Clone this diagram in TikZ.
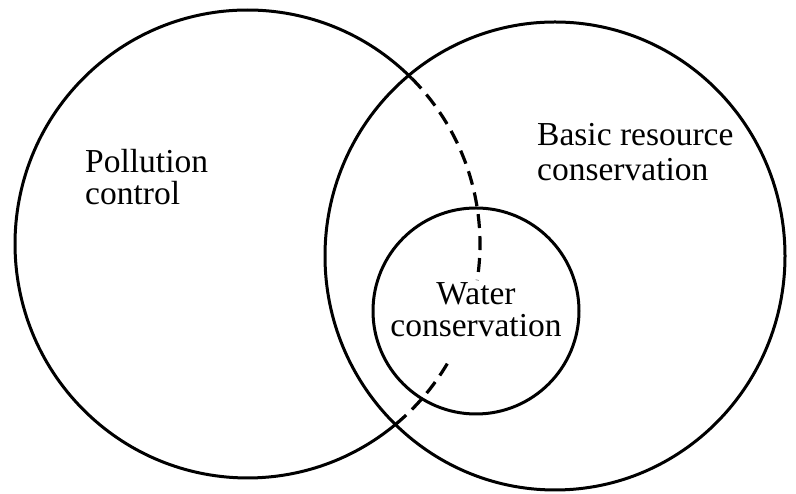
\documentclass[tikz,border=0pt]{standalone}
\usepackage{fontspec}
\setmainfont{Liberation Serif}
\usetikzlibrary{calc}
\begin{document}
\begin{tikzpicture}[x=1pt,y=1pt,
  ring/.style={line width=3pt},
  dashring/.style={line width=3.2pt, dash pattern=on 14pt off 8pt},
  lbl/.style={inner sep=0pt, font=\fontsize{33.5}{36}\selectfont}]
\useasboundingbox (0,0) rectangle (796,494);
% left circle (Pollution control)
\coordinate (lc) at (247.5,250);
\coordinate (rc) at (555,238);
\coordinate (wc) at (476,183);
\draw[ring] ($(lc)+(45.1:232.5 and 234)$) arc[start angle=45.1, end angle=309.6, x radius=232.5, y radius=234];
\draw[dashring] ($(lc)+(45.1:232.5 and 234)$) arc[start angle=45.1, end angle=-8.9, x radius=232.5, y radius=234];
\draw[dashring] ($(lc)+(-50.4:232.5 and 234)$) arc[start angle=-50.4, end angle=-28.9, x radius=232.5, y radius=234];
% right circle
\draw[ring] (rc) ellipse[x radius=230, y radius=234];
% water circle
\draw[ring] (wc) circle[radius=103];
% labels
\node[lbl, anchor=base west] (pc1) at (85,321) {Pollution};
\node[lbl, anchor=base west] (pc2) at (85,289) {control};
\node[lbl, anchor=base west] (br1) at (537,348) {Basic resource};
\node[lbl, anchor=base west] (br2) at (537,313) {conservation};
\node[lbl, anchor=base] (wc1) at (476,189) {Water};
\node[lbl, anchor=base] (wc2) at (476,157) {conservation};
\end{tikzpicture}
\end{document}
